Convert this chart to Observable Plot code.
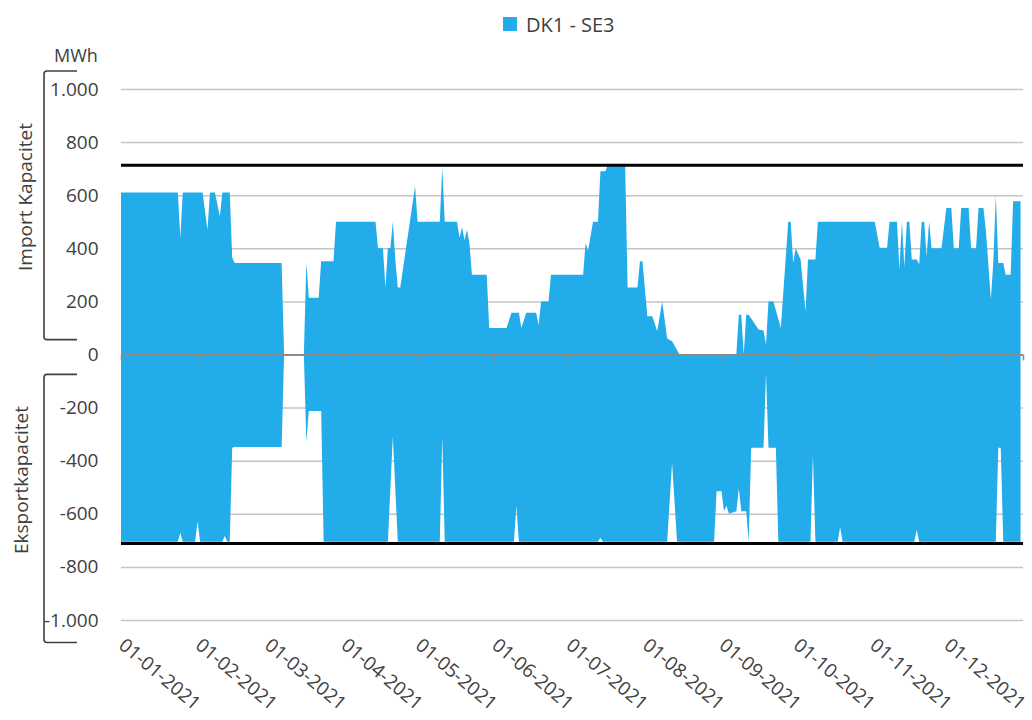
<!DOCTYPE html>
<html><head><meta charset="utf-8">
<script src="https://cdn.jsdelivr.net/npm/d3@7"></script>
<script src="https://cdn.jsdelivr.net/npm/@observablehq/plot@0.6"></script>
<style>
body{margin:0;background:#fff;}
#chart{width:1032px;height:720px;}
</style>
</head><body><div id="chart"></div>
<script>
// ---------- data ----------
const seriesName = "DK1 - SE3";
const unitLabel = "MWh";
const importLabel = "Import Kapacitet";
const exportLabel = "Eksportkapacitet";

// Import (positive) – breakpoints, dates are MM-DD in 2021
const importDates = [
  "01-01","01-24","01-25","01-26","02-03","02-05","02-06","02-08","02-10","02-11","02-14","02-15","02-16",
  "03-07","03-08","03-16","03-17","03-18","03-22","03-23","03-28","03-29",
  "04-14","04-15","04-17","04-18","04-19","04-20","04-21","04-22","04-23","04-24","04-30",
  "05-01","05-10","05-11","05-12","05-17","05-18","05-19","05-20","05-21","05-22","05-23","05-29","05-30",
  "06-06","06-08","06-11","06-12","06-14","06-18","06-19","06-20","06-23","06-24",
  "07-07","07-08","07-09","07-11","07-13","07-14","07-16","07-17","07-24","07-25","07-29","07-30","07-31",
  "08-02","08-04","08-06","08-08","08-10","08-12","08-15",
  "09-07","09-08","09-09","09-10","09-11","09-12","09-16","09-18","09-19","09-20","09-22","09-25","09-28","09-29","09-30",
  "10-01","10-03","10-05","10-06","10-09","10-10",
  "11-02","11-04","11-07","11-08","11-11","11-12","11-13","11-14","11-15","11-16","11-17","11-19","11-20","11-21","11-22","11-23","11-24","11-25","11-29",
  "12-01","12-03","12-04","12-06","12-07","12-10","12-11","12-13","12-14","12-16","12-17","12-19","12-20","12-21","12-22","12-24","12-25","12-27","12-28","12-31"
];
const importMWh = [
  610,610,440,610,610,470,610,610,520,610,610,365,345,
  345,0,0,346,214,214,351,351,500,
  500,400,400,252,400,400,500,358,252,252,634,
  500,500,703,500,500,440,480,430,470,420,300,300,100,
  100,157,157,100,157,157,110,200,200,300,
  300,420,390,500,500,690,690,715,715,252,252,351,351,
  144,144,88,200,60,50,0,
  0,150,150,0,150,150,94,90,38,200,200,100,500,500,345,
  400,358,163,358,358,500,
  500,402,402,500,500,320,500,330,500,500,358,358,340,500,500,370,500,400,400,
  552,552,400,400,552,552,400,400,552,552,465,207,350,600,345,345,300,300,577,577
];

// Export (negative) – breakpoints
const exportDates = [
  "01-01","01-24","01-25","01-26","01-31","02-01","02-02","02-11","02-12","02-13","02-14","02-15","02-16",
  "03-07","03-08","03-16","03-17","03-18","03-23","03-24",
  "04-19","04-21","04-23","05-10","05-11","05-12","06-09","06-10","06-11","07-13","07-14","07-15",
  "08-10","08-12","08-14","08-29","08-30","09-01","09-02","09-03","09-04","09-07","09-08","09-09","09-11","09-12",
  "09-13","09-18","09-19","09-20","09-23","09-24",
  "10-07","10-08","10-09","10-18","10-19","10-20","11-18","11-19","11-20",
  "12-21","12-22","12-23","12-24","12-31"
];
const exportMWh = [
  -705,-705,-671,-705,-705,-628,-705,-705,-684,-705,-705,-351,-348,
  -348,0,0,-330,-213,-213,-705,
  -705,-308,-705,-705,-308,-705,-705,-571,-705,-705,-690,-705,
  -705,-408,-705,-705,-515,-515,-590,-570,-600,-590,-505,-590,-590,-705,
  -351,-351,-69,-351,-351,-705,
  -705,-377,-705,-705,-650,-705,-705,-660,-705,
  -705,-351,-351,-705,-705
];

const capacityLines = [715, -710];
const yTicks = [-1000, -800, -600, -400, -200, 0, 200, 400, 600, 800, 1000];
const monthTicks = ["2021-01-01","2021-02-01","2021-03-01","2021-04-01","2021-05-01","2021-06-01",
  "2021-07-01","2021-08-01","2021-09-01","2021-10-01","2021-11-01","2021-12-01"];
const axisEnd = "2022-01-01";
// bracket extents (value units) for the two side labels
const importBracket = [1068, 56];
const exportBracket = [-75, -1085];

// ---------- build ----------
const parse = d3.utcParse("%Y-%m-%d");
const imp = importDates.map((d, i) => ({date: parse("2021-" + d), v: importMWh[i]}));
const exp = exportDates.map((d, i) => ({date: parse("2021-" + d), v: exportMWh[i]}));
const months = monthTicks.map(parse);
const zeroTicks = months.concat([parse(axisEnd)]);

const da = d3.formatLocale({decimal: ",", thousands: ".", grouping: [3], currency: ["", " kr."], minus: "-"});
const fmt = da.format(",");
const blue = "#22ACE9";
const font = "'Open Sans', sans-serif";

const chart = Plot.plot({
  width: 1032, height: 720,
  marginTop: 89, marginBottom: 100, marginLeft: 121, marginRight: 9,
  style: {fontFamily: font, fontSize: "19px", color: "#404040", background: "#fff"},
  x: {type: "utc", domain: [parse("2021-01-01"), parse(axisEnd)]},
  y: {domain: [-1000, 1000]},
  marks: [
    Plot.ruleY(yTicks.filter(d => d !== 0), {stroke: "#c4c4c4", strokeWidth: 1.5}),
    Plot.areaY(imp, {x: "date", y1: 0, y2: "v", fill: blue}),
    Plot.areaY(exp, {x: "date", y1: 0, y2: "v", fill: blue}),
    Plot.ruleY([0], {stroke: "#8a8a8a", strokeWidth: 2}),
    Plot.ruleX(zeroTicks, {y1: 0, y2: -22, stroke: "#8a8a8a", strokeWidth: 1.5}),
    Plot.ruleY(capacityLines, {stroke: "#000", strokeWidth: 3}),
    Plot.axisY({ticks: yTicks, tickFormat: fmt, tickSize: 0, tickPadding: 23, label: null}),
    Plot.axisX({ticks: months, tickFormat: d3.utcFormat("%d-%m-%Y"), tickSize: 0, tickPadding: 22, tickRotate: 40, label: null})
  ]
});
document.getElementById("chart").appendChild(chart);

// ---------- decorations: legend, unit, brackets, side labels ----------
const svg = d3.select(chart);
const y = v => chart.scale("y").apply(v);
const ink = "#404040";

// legend
svg.append("rect").attr("x", 503).attr("y", 17).attr("width", 14).attr("height", 14).attr("fill", blue);
svg.append("text").attr("x", 526).attr("y", 31.5).attr("text-anchor", "start")
  .attr("font-family", font).attr("font-size", 20).attr("fill", ink).text(seriesName);

// unit
svg.append("text").attr("x", 54).attr("y", 62).attr("text-anchor", "start")
  .attr("font-family", font).attr("font-size", 18).attr("fill", ink).text(unitLabel);

// brackets
function bracket([v1, v2]) {
  const y1 = y(v1), y2 = y(v2), x0 = 44, x1 = 77, r = 3;
  svg.append("path")
    .attr("d", `M${x1},${y1} H${x0 + r} Q${x0},${y1} ${x0},${y1 + r} V${y2 - r} Q${x0},${y2} ${x0 + r},${y2} H${x1}`)
    .attr("fill", "none").attr("stroke", ink).attr("stroke-width", 1.6);
}
bracket(importBracket);
bracket(exportBracket);

function sideLabel(text, x, cy) {
  svg.append("text").attr("transform", `translate(${x},${cy}) rotate(-90)`)
    .attr("text-anchor", "middle").attr("dominant-baseline", "central")
    .attr("font-family", font).attr("font-size", 19).attr("fill", ink).text(text);
}
sideLabel(importLabel, 25, 197);
sideLabel(exportLabel, 21, 480);
</script>
</body></html>
